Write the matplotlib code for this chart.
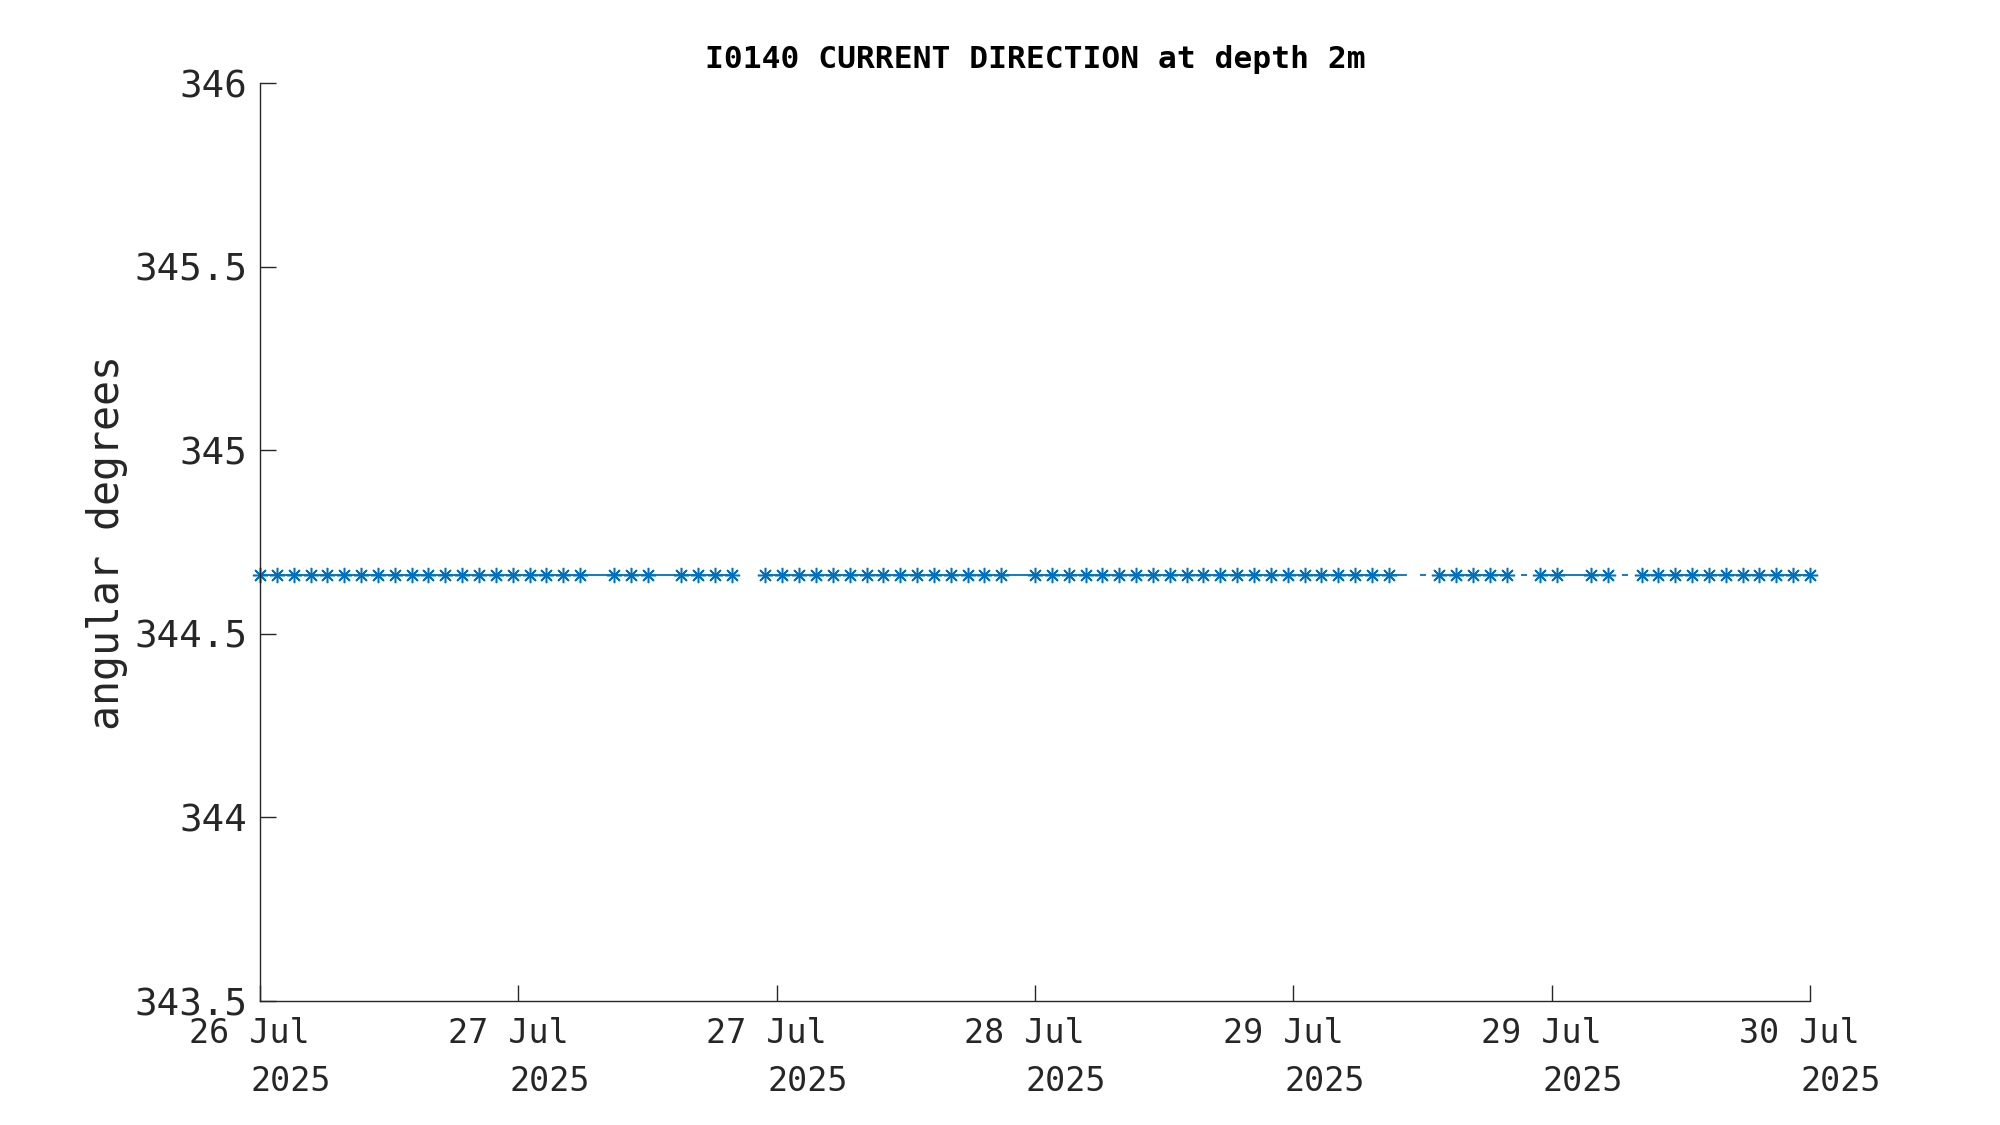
import numpy as np
import pandas as pd
import matplotlib
matplotlib.use('Agg')
import matplotlib.pyplot as plt

nan = np.nan

# current direction (angular degrees), one sample per step from 26 Jul to 30 Jul
direction = [
    344.66, 344.66, 344.66, 344.66, 344.66, 344.66, 344.66, 344.66, 344.66, 344.66,
    344.66, 344.66, 344.66, 344.66, 344.66, 344.66, 344.66, 344.66, 344.66, 344.66,
    344.66, 344.66, 344.66, 344.66, 344.66, 344.66, 344.66, 344.66, 344.66, nan,
    344.66, 344.66, 344.66, 344.66, 344.66, 344.66, 344.66, 344.66, 344.66, 344.66,
    344.66, 344.66, 344.66, 344.66, 344.66, 344.66, 344.66, 344.66, 344.66, 344.66,
    344.66, 344.66, 344.66, 344.66, 344.66, 344.66, 344.66, 344.66, 344.66, 344.66,
    344.66, 344.66, 344.66, 344.66, 344.66, 344.66, 344.66, 344.66, 344.66, 344.66,
    344.66, 344.66, 344.66, 344.66, 344.66, 344.66, 344.66, 344.66, 344.66, 344.66,
    344.66, 344.66, 344.66, 344.66, 344.66, 344.66, 344.66, 344.66, 344.66, 344.66,
    344.66, 344.66, 344.66,
]
# samples joined by the line but drawn without a star
no_marker = [20, 24, 45, 68, 78]
# samples shown only as a short stroke, not joined
isolated = [69, 75, 81]

start, end = '2025-07-26 00:00', '2025-07-30 00:00'
tick_labels = ['26 Jul', '27 Jul', '27 Jul', '28 Jul', '29 Jul', '29 Jul', '30 Jul']
tick_year = '2025'
y_ticks = [343.5, 344, 344.5, 345, 345.5, 346]
y_tick_labels = ['343.5', '344', '344.5', '345', '345.5', '346']

BLUE = '#0072BD'
DARK = '#262626'

plt.rcParams['font.family'] = ['DejaVu Sans Mono']

times = pd.date_range(start, end, periods=len(direction))
values = np.array(direction, dtype=float)
line_values = values.copy()
line_values[isolated] = nan
shown = [i for i in range(len(values))
         if i not in no_marker and i not in isolated and not np.isnan(values[i])]

fig = plt.figure(figsize=(20, 11.25), dpi=100)
ax = fig.add_axes([0.13, 0.1102, 0.775, 0.8160])

ax.plot(times, line_values, color=BLUE, linewidth=1.3,
        marker=(8, 2, 0), markersize=11, markeredgewidth=1.1,
        markevery=shown, clip_on=False)
ax.plot(times[isolated], values[isolated], linestyle='none', color=BLUE,
        marker='_', markersize=5, markeredgewidth=1.3)

ax.set_xlim(times[0], times[-1])
ax.set_ylim(343.5, 346)

# two-line date ticks: day/month on top, year below and shifted right
tick_times = pd.date_range(start, end, periods=len(tick_labels))
ax.set_xticks(tick_times)
ax.tick_params(axis='x', labelbottom=False)
for t, lab in zip(tick_times, tick_labels):
    ax.annotate(lab, xy=(t, 0), xycoords=('data', 'axes fraction'),
                xytext=(-51, -11.5), textcoords='offset points',
                ha='left', va='top', fontsize=24, color=DARK)
    ax.annotate(tick_year, xy=(t, 0), xycoords=('data', 'axes fraction'),
                xytext=(-6.5, -46), textcoords='offset points',
                ha='left', va='top', fontsize=24, color=DARK)

ax.set_yticks(y_ticks)
ax.set_yticklabels(y_tick_labels, fontsize=27, color=DARK)

ax.tick_params(axis='both', direction='in', length=11.5, width=1.0, color=DARK)
ax.tick_params(axis='y', pad=9)

for side in ['top', 'right']:
    ax.spines[side].set_visible(False)
for side in ['left', 'bottom']:
    ax.spines[side].set_color(DARK)
    ax.spines[side].set_linewidth(1.0)

ax.set_ylabel('angular degrees', fontsize=30, color=DARK)
ax.yaxis.set_label_coords(-0.085, 0.5)
ax.set_title('I0140 CURRENT DIRECTION at depth 2m', fontsize=22.5,
             fontweight='bold', pad=11)

fig.savefig('out.png', dpi=100)
